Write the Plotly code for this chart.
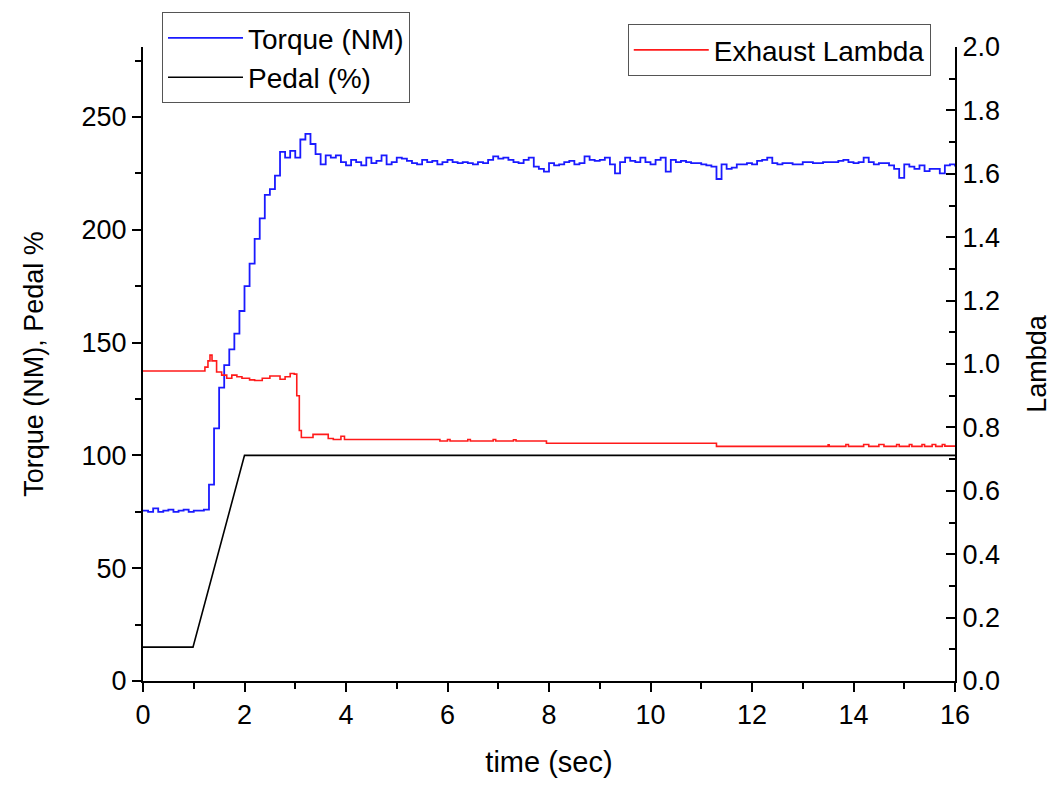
import plotly.graph_objects as go

# ---------------- data ----------------
torque_time = [round(0.1 * i, 1) for i in range(0, 161)]
torque_nm = [
    75.5, 75.0, 76.5, 75.0, 75.5, 76.0, 75.0, 75.5, 76.0, 75.0,   # 0.0-0.9
    75.5, 75.5, 76.0, 87.0, 112.0, 130.0, 140.0, 147.0, 154.0, 164.0,  # 1.0-1.9
    175.0, 185.0, 196.0, 205.0, 215.5, 218.0, 224.0, 234.5, 232.0, 235.0,  # 2.0-2.9
    232.0, 240.0, 242.5, 238.0, 233.5, 229.0, 233.0, 232.0, 233.0, 230.0,  # 3.0-3.9
    228.5, 231.0, 230.0, 228.5, 232.0, 229.5, 230.5, 233.0, 229.0, 230.0,  # 4.0-4.9
    232.0, 231.5, 230.5, 229.5, 229.0, 231.0, 230.0, 230.5, 229.0, 230.0,  # 5.0-5.9
    231.0, 230.0, 229.5, 230.0, 229.5, 229.0, 230.0, 229.5, 231.0, 232.5,  # 6.0-6.9
    231.5, 232.0, 231.0, 230.0, 229.5, 231.0, 232.0, 228.0, 227.0, 225.8,  # 7.0-7.9
    229.5, 228.5, 229.0, 230.0, 230.5, 229.0, 229.5, 232.5, 231.0, 230.5,  # 8.0-8.9
    231.0, 232.0, 229.0, 225.0, 230.0, 232.0, 230.5, 230.0, 232.0, 230.0,  # 9.0-9.9
    229.0, 231.0, 232.0, 225.8, 231.0, 230.0, 230.5, 230.0, 229.5, 229.5,  # 10.0-10.9
    229.0, 228.5, 228.0, 222.5, 229.0, 227.0, 227.5, 229.0, 229.0, 229.5,  # 11.0-11.9
    229.0, 230.5, 231.0, 232.0, 229.5, 229.0, 229.5, 229.5, 229.0, 229.0,  # 12.0-12.9
    230.0, 230.0, 229.5, 229.5, 230.0, 230.0, 230.0, 230.5, 231.0, 230.0,  # 13.0-13.9
    229.5, 230.0, 232.0, 230.0, 229.0, 229.5, 229.5, 228.5, 227.0, 223.0,  # 14.0-14.9
    229.0, 228.0, 227.0, 228.5, 226.0, 227.0, 227.0, 225.0, 228.5, 229.0,  # 15.0-15.9
    228.0,                                                               # 16.0
]

pedal_time = [0.0, 0.985, 2.0, 16.0]
pedal_pct = [15.0, 15.0, 100.0, 100.0]

lambda_time = [
    0.0, 1.15, 1.22, 1.28, 1.32, 1.36, 1.45, 1.55, 1.65, 1.75,
    1.85, 1.95, 2.1, 2.2, 2.35, 2.5, 2.6, 2.7, 2.8, 2.9,
    2.98, 3.03, 3.08, 3.12, 3.3, 3.35, 3.55, 3.65, 3.75, 3.9,
    3.97, 5.85, 6.0, 6.05, 6.4, 6.45, 6.9, 6.95, 7.3, 7.35,
    7.6, 7.95, 11.3, 13.5, 13.52, 13.85, 13.9, 14.2, 14.3, 14.5,
    14.6, 14.85, 14.9, 15.1, 15.15, 15.35, 15.4, 15.55, 15.62, 15.75,
    15.8, 16.0,
]
lambda_val = [
    0.978, 0.978, 0.99, 1.01, 1.028, 1.01, 0.975, 0.965, 0.955, 0.965,
    0.96, 0.955, 0.95, 0.948, 0.955, 0.962, 0.962, 0.952, 0.96, 0.97,
    0.968, 0.9, 0.79, 0.768, 0.768, 0.778, 0.778, 0.765, 0.762, 0.772,
    0.762, 0.757, 0.762, 0.757, 0.762, 0.757, 0.762, 0.757, 0.761, 0.757,
    0.757, 0.750, 0.740, 0.745, 0.740, 0.746, 0.740, 0.746, 0.740, 0.746,
    0.740, 0.746, 0.740, 0.746, 0.740, 0.746, 0.740, 0.746, 0.740, 0.746,
    0.741, 0.741,
]

x_ticks = [0, 2, 4, 6, 8, 10, 12, 14, 16]
left_ticks = [0, 50, 100, 150, 200, 250]
right_ticks = [0.0, 0.2, 0.4, 0.6, 0.8, 1.0, 1.2, 1.4, 1.6, 1.8, 2.0]

# ---------------- figure ----------------
FONT = "Liberation Sans, Arial, sans-serif"

fig = go.Figure()
fig.add_trace(go.Scatter(x=torque_time, y=torque_nm, name="Torque (NM)", mode="lines",
                         line=dict(color="#1a1aff", width=1.8, shape="hv"), legend="legend"))
fig.add_trace(go.Scatter(x=pedal_time, y=pedal_pct, name="Pedal (%)", mode="lines",
                         line=dict(color="black", width=1.6), legend="legend"))
fig.add_trace(go.Scatter(x=lambda_time, y=lambda_val, name="Exhaust Lambda", mode="lines",
                         line=dict(color="#ff1a1a", width=1.6, shape="hv"),
                         yaxis="y2", legend="legend2"))

fig.update_layout(
    width=1052, height=785,
    margin=dict(l=143, r=97, t=45, b=104),
    paper_bgcolor="white", plot_bgcolor="white",
    font=dict(family=FONT, color="black", size=27),
    showlegend=True,
    xaxis=dict(
        range=[0, 16], tickvals=x_ticks, ticks="outside", ticklen=9, tickwidth=2,
        tickcolor="black", showline=True, linecolor="black", linewidth=2,
        showgrid=False, zeroline=False, automargin=False,
        minor=dict(dtick=1, ticks="outside", ticklen=6, tickwidth=2, tickcolor="black"),
        tickfont=dict(size=27),
        title=dict(text="time (sec)", font=dict(size=29), standoff=22),
    ),
    yaxis=dict(
        range=[0, 281], tickvals=left_ticks, ticks="outside", ticklen=9, tickwidth=2,
        tickcolor="black", showline=True, linecolor="black", linewidth=2,
        showgrid=False, zeroline=False, automargin=False,
        minor=dict(dtick=25, ticks="outside", ticklen=6, tickwidth=2, tickcolor="black"),
        tickfont=dict(size=27),
        title=dict(text="Torque (NM), Pedal %", font=dict(size=27), standoff=30),
    ),
    yaxis2=dict(
        range=[0, 2.0], tickvals=right_ticks, tickformat=".1f", overlaying="y", side="right",
        ticks="inside", ticklen=9, tickwidth=2, tickcolor="black",
        showline=True, linecolor="black", linewidth=2, showgrid=False, zeroline=False,
        automargin=False,
        minor=dict(dtick=0.1, ticks="inside", ticklen=6, tickwidth=2, tickcolor="black"),
        tickfont=dict(size=27),
        title=dict(text="Lambda", font=dict(size=27), standoff=28),
    ),
    legend=dict(
        x=0.0234, y=1.055, xanchor="left", yanchor="top",
        bordercolor="#555555", borderwidth=1, bgcolor="white",
        font=dict(size=28), itemwidth=75, tracegroupgap=0,
    ),
    legend2=dict(
        x=0.597, y=1.036, xanchor="left", yanchor="top",
        bordercolor="#555555", borderwidth=1, bgcolor="white",
        font=dict(size=28), itemwidth=75,
    ),
)

fig.write_html("out.html")
